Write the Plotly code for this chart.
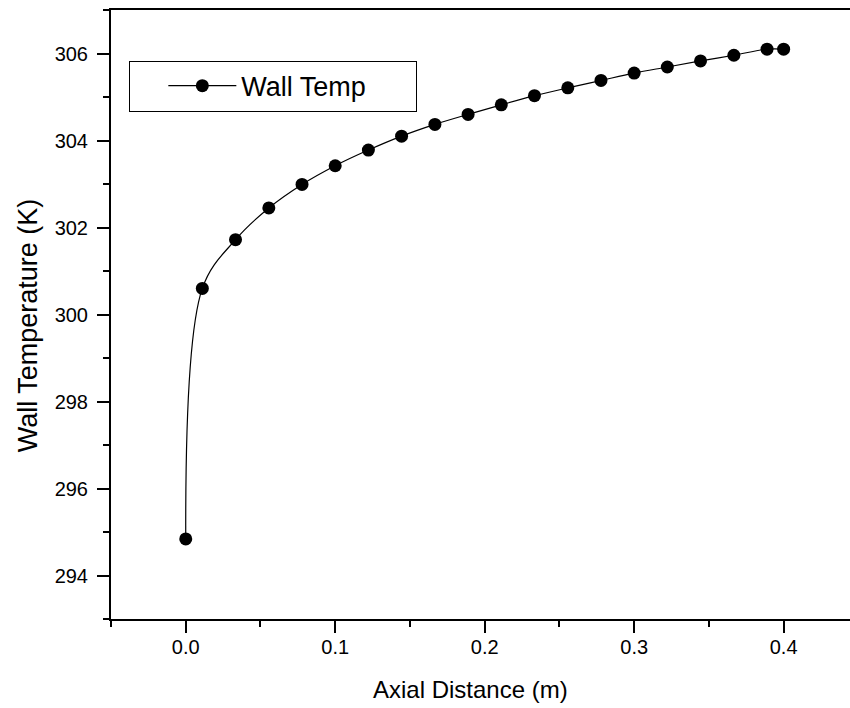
import plotly.graph_objects as go

axial_distance = [0.0, 0.0111, 0.0333, 0.0556, 0.0778, 0.1, 0.1222, 0.1444, 0.1667, 0.1889,
                  0.2111, 0.2333, 0.2556, 0.2778, 0.3, 0.3222, 0.3444, 0.3667, 0.3889, 0.4]
wall_temp = [294.84, 300.60, 301.72, 302.45, 302.99, 303.42, 303.78, 304.10, 304.37, 304.60,
             304.82, 305.03, 305.21, 305.38, 305.55, 305.69, 305.83, 305.96, 306.10, 306.10]

x_ticks = [0.0, 0.1, 0.2, 0.3, 0.4]
x_tick_labels = ["0.0", "0.1", "0.2", "0.3", "0.4"]
y_ticks = [294, 296, 298, 300, 302, 304, 306]

FONT = "Liberation Sans, Arial, sans-serif"

fig = go.Figure()
fig.add_trace(go.Scatter(
    x=axial_distance, y=wall_temp, mode="lines+markers",
    name="Wall Temp" + "\u00a0" * 6,
    line=dict(color="black", width=1.2, shape="spline", smoothing=1.0),
    marker=dict(color="black", size=13, symbol="circle"),
))

fig.update_layout(
    width=850, height=708,
    margin=dict(l=111, r=0, t=10, b=89),
    paper_bgcolor="white", plot_bgcolor="white",
    font=dict(family=FONT, color="black"),
    showlegend=True,
    legend=dict(
        x=0.0248, y=0.9168, xanchor="left", yanchor="top",
        bordercolor="black", borderwidth=1, bgcolor="white",
        font=dict(size=27, family=FONT, color="black"),
        itemwidth=68, indentation=33,
    ),
    xaxis=dict(
        range=[-0.05, 0.4444], tickvals=x_ticks, ticktext=x_tick_labels,
        showline=True, linecolor="black", linewidth=2, mirror=True,
        ticks="outside", ticklen=12, tickwidth=2, tickcolor="black",
        ticklabelstandoff=-3,
        minor=dict(dtick=0.05, tick0=-0.05, ticks="outside", ticklen=6, tickwidth=2, tickcolor="black", showgrid=False),
        showgrid=False, zeroline=False,
        tickfont=dict(size=20, family=FONT, color="black"),
    ),
    yaxis=dict(
        range=[293, 307], tickvals=y_ticks,
        showline=True, linecolor="black", linewidth=2, mirror=False,
        ticks="outside", ticklen=12, tickwidth=2, tickcolor="black",
        ticklabelstandoff=5,
        minor=dict(dtick=1, tick0=293, ticks="outside", ticklen=6, tickwidth=2, tickcolor="black", showgrid=False),
        showgrid=False, zeroline=False,
        tickfont=dict(size=20, family=FONT, color="black"),
    ),
    annotations=[
        dict(text="Axial Distance (m)", xref="paper", yref="paper", x=0.487, y=-0.116,
             xanchor="center", yanchor="middle", showarrow=False,
             font=dict(size=24, family=FONT, color="black")),
        dict(text="Wall Temperature (K)", xref="paper", yref="paper", x=-0.113, y=0.483,
             xanchor="center", yanchor="middle", showarrow=False, textangle=-90,
             font=dict(size=27, family=FONT, color="black")),
    ],
)

fig.write_html("out.html", config={"displayModeBar": False},
               post_script="document.body.style.margin='0';document.body.style.overflow='hidden';")
